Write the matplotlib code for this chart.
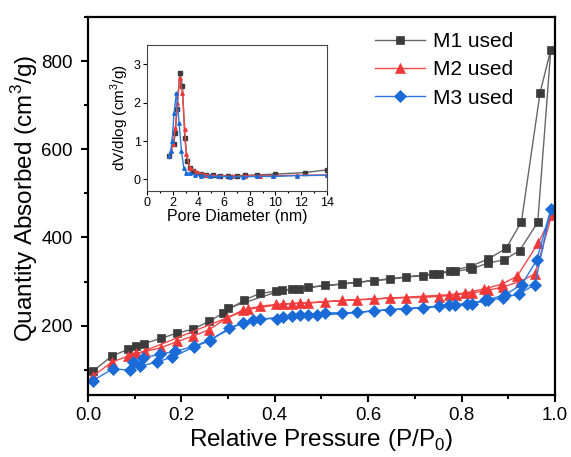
import matplotlib
matplotlib.use('Agg')
import matplotlib.pyplot as plt
from matplotlib.ticker import MultipleLocator

plt.rcParams['font.family'] = ['Liberation Sans', 'DejaVu Sans']
plt.rcParams['mathtext.fontset'] = 'custom'
plt.rcParams['mathtext.rm'] = 'Liberation Sans'

# ---- isotherm data (adsorption branch followed by desorption branch) ----
m1_p = [0.010, 0.051, 0.086, 0.103, 0.120, 0.156, 0.191, 0.225, 0.260, 0.290,
        0.335, 0.368, 0.403, 0.436, 0.471, 0.507, 0.543, 0.577, 0.612, 0.647,
        0.681, 0.717, 0.752, 0.786, 0.822, 0.857, 0.891, 0.924, 0.963, 0.991,
        0.968, 0.928, 0.895, 0.857, 0.818, 0.775, 0.738, 0.452, 0.415, 0.300]
m1_q = [96, 131, 146, 153, 159, 171, 183, 192, 210, 229,
        258, 273, 278, 283, 287, 291, 294, 298, 302, 305,
        310, 313, 318, 323, 329, 342, 349, 370, 434, 826,
        728, 435, 375, 351, 334, 324, 317, 284, 280, 240]

m2_p = [0.010, 0.051, 0.086, 0.103, 0.122, 0.157, 0.191, 0.225, 0.260, 0.297,
        0.333, 0.368, 0.403, 0.436, 0.472, 0.507, 0.543, 0.577, 0.612, 0.647,
        0.681, 0.717, 0.752, 0.788, 0.822, 0.857, 0.889, 0.925, 0.957, 0.993,
        0.964, 0.919, 0.886, 0.847, 0.807, 0.772, 0.454, 0.418, 0.343, 0.094]
m2_q = [85, 117, 131, 137, 141, 150, 164, 176, 191, 217,
        236, 244, 248, 250, 251, 254, 257, 259, 260, 263,
        263, 264, 266, 270, 274, 280, 288, 300, 317, 450,
        387, 312, 294, 283, 274, 270, 251, 249, 237, 131]

m3_p = [0.010, 0.053, 0.091, 0.111, 0.147, 0.181, 0.228, 0.261, 0.303, 0.333,
        0.368, 0.404, 0.436, 0.472, 0.507, 0.543, 0.577, 0.612, 0.647, 0.681,
        0.717, 0.752, 0.786, 0.822, 0.857, 0.889, 0.923, 0.957, 0.991,
        0.961, 0.929, 0.893, 0.850, 0.811, 0.772, 0.491, 0.454, 0.418, 0.354,
        0.331, 0.261, 0.228, 0.187, 0.155, 0.118, 0.096]
m3_q = [75, 102, 99, 108, 117, 129, 152, 166, 195, 206,
        216, 216, 221, 224, 229, 229, 230, 234, 236, 238,
        240, 244, 246, 250, 257, 263, 272, 293, 464,
        349, 293, 270, 257, 250, 246, 223, 223, 220, 212,
        207, 168, 153, 142, 135, 127, 117]

# ---- pore size distribution (inset) ----
m1_d = [1.69, 2.08, 2.21, 2.34, 2.55, 2.76, 2.94, 3.12, 3.33, 3.59, 3.85, 4.24,
        4.63, 5.15, 5.67, 6.32, 6.97, 7.62, 8.54, 9.97, 12.3, 14.0]
m1_v = [0.62, 0.92, 1.22, 1.83, 2.78, 2.44, 1.09, 0.49, 0.31, 0.23, 0.18, 0.14,
        0.12, 0.11, 0.10, 0.10, 0.10, 0.11, 0.12, 0.14, 0.18, 0.25]
m2_d = [1.72, 1.90, 2.03, 2.21, 2.37, 2.55, 2.76, 2.94, 3.07, 3.33, 3.85, 4.63,
        5.54, 6.58, 7.62, 8.80, 9.84, 11.66, 14.0]
m2_v = [0.62, 0.75, 0.92, 1.35, 2.00, 2.65, 2.26, 1.31, 0.66, 0.31, 0.20, 0.12,
        0.10, 0.08, 0.09, 0.10, 0.10, 0.11, 0.12]
m3_d = [1.69, 1.85, 1.95, 2.11, 2.29, 2.50, 2.68, 2.86, 3.07, 3.33, 3.72, 4.24,
        4.89, 5.54, 6.45, 7.49, 8.54, 9.84, 11.66, 14.0]
m3_v = [0.62, 0.75, 1.00, 1.74, 2.26, 1.48, 0.75, 0.31, 0.18, 0.16, 0.12, 0.10,
        0.08, 0.08, 0.07, 0.07, 0.08, 0.08, 0.10, 0.11]

labels = ['M1 used', 'M2 used', 'M3 used']
line_colors = ['#666666', '#f04a4a', '#2a78e0']
mark_colors = ['#3c3c3c', '#f03838', '#1a6ad8']
markers = ['s', '^', 'D']
msizes = [6.0, 7.0, 6.0]

fig = plt.figure(figsize=(5.71, 4.57), dpi=100)
ax = fig.add_axes([0.154, 0.136, 0.818, 0.827])

series = [(m1_p, m1_q), (m2_p, m2_q), (m3_p, m3_q)]
for (p, q), lab, lc, mc, mk, ms in zip(series, labels, line_colors, mark_colors, markers, msizes):
    ax.plot(p, q, color=lc, linewidth=1.0, marker=mk, markersize=ms,
            markerfacecolor=mc, markeredgecolor=mc, markeredgewidth=0.5, label=lab)

ax.set_xlim(0, 1.0)
ax.set_ylim(43, 900)
ax.xaxis.set_major_locator(MultipleLocator(0.2))
ax.xaxis.set_minor_locator(MultipleLocator(0.1))
ax.yaxis.set_major_locator(MultipleLocator(200))
ax.yaxis.set_minor_locator(MultipleLocator(100))
ax.tick_params(which='both', direction='out', width=1.5, labelsize=13.5)
ax.tick_params(which='major', length=5)
ax.tick_params(axis='x', which='major', pad=4)
ax.tick_params(axis='y', which='major', pad=6)
ax.tick_params(which='minor', length=3)
for s in ax.spines.values():
    s.set_linewidth(1.6)
ax.set_xlabel('Relative Pressure (P/P$_0$)', fontsize=17.5, labelpad=2)
ax.set_ylabel('Quantity Absorbed (cm$^3$/g)', fontsize=17.5)
ax.yaxis.set_label_coords(-0.103, 0.52)

leg = ax.legend(loc='upper right', bbox_to_anchor=(0.95, 1.01), frameon=False,
                fontsize=15, handlelength=2.4, handletextpad=0.35, labelspacing=0.45)

# ---- inset ----
ins = fig.add_axes([0.2574, 0.582, 0.315, 0.3195])
for (d, v), lc, mc, mk in zip([(m1_d, m1_v), (m2_d, m2_v), (m3_d, m3_v)],
                              line_colors, mark_colors, ['s', '^', '^']):
    ins.plot(d, v, color=lc, linewidth=1.0, marker=mk, markersize=2.5,
             markerfacecolor=mc, markeredgecolor=mc)
ins.set_xlim(0, 14)
ins.set_ylim(-0.3, 3.5)
ins.xaxis.set_major_locator(MultipleLocator(2))
ins.xaxis.set_minor_locator(MultipleLocator(1))
ins.yaxis.set_major_locator(MultipleLocator(1))
ins.tick_params(which='both', direction='out', width=0.8, labelsize=9, pad=1.5)
ins.tick_params(which='major', length=3)
ins.tick_params(which='minor', length=1.5)
for s in ins.spines.values():
    s.set_linewidth(0.8)
    s.set_color('#444444')
ins.set_xlabel('Pore Diameter (nm)', fontsize=11.5, labelpad=0)
ins.set_ylabel('dV/dlog (cm$^3$/g)', fontsize=11, labelpad=2)

plt.savefig('out.png', dpi=100)
plt.close()
